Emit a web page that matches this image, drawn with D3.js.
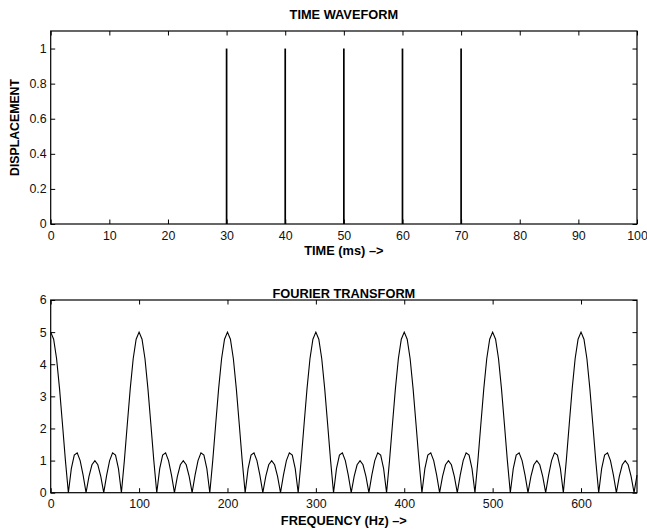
<!DOCTYPE html>
<html>
<head>
<meta charset="utf-8">
<script src="https://cdn.jsdelivr.net/npm/d3@7/dist/d3.min.js"></script>
<style>
  html, body { margin: 0; padding: 0; background: #fff; }
  svg { display: block; font-family: "Liberation Sans", Arial, Helvetica, sans-serif; }
  .tick text { fill: #111; font-size: 12.4px; }
  .title, .xlabel { font-weight: bold; font-size: 12.8px; fill: #000; }
  .ylabel { font-weight: bold; font-size: 12.3px; fill: #000; }
</style>
</head>
<body>
<svg id="chart" width="647" height="529"></svg>
<script>
// ---- time waveform: unit impulses ----
const pulseTimesMs = [30, 40, 50, 60, 70];
const pulseAmplitudes = [1, 1, 1, 1, 1];
const timeTicks = [0, 10, 20, 30, 40, 50, 60, 70, 80, 90, 100];
const displacementTicks = [0, 0.2, 0.4, 0.6, 0.8, 1];

// ---- Fourier transform magnitude, sampled every 10/3 Hz starting at 0 Hz ----
const freqStepHz = 10 / 3;
const spectrumMagnitude = [
  5.00, 4.78, 4.17, 3.24, 2.13, 1.00, 0.00, 0.75, 1.17, 1.24, 1.00, 0.55, 0.00, 0.51, 0.87,
  1.00, 0.87, 0.51, 0.00, 0.55, 1.00, 1.24, 1.17, 0.75, 0.00, 1.00, 2.13, 3.24, 4.17, 4.78,
  5.00, 4.78, 4.17, 3.24, 2.13, 1.00, 0.00, 0.75, 1.17, 1.24, 1.00, 0.55, 0.00, 0.51, 0.87,
  1.00, 0.87, 0.51, 0.00, 0.55, 1.00, 1.24, 1.17, 0.75, 0.00, 1.00, 2.13, 3.24, 4.17, 4.78,
  5.00, 4.78, 4.17, 3.24, 2.13, 1.00, 0.00, 0.75, 1.17, 1.24, 1.00, 0.55, 0.00, 0.51, 0.87,
  1.00, 0.87, 0.51, 0.00, 0.55, 1.00, 1.24, 1.17, 0.75, 0.00, 1.00, 2.13, 3.24, 4.17, 4.78,
  5.00, 4.78, 4.17, 3.24, 2.13, 1.00, 0.00, 0.75, 1.17, 1.24, 1.00, 0.55, 0.00, 0.51, 0.87,
  1.00, 0.87, 0.51, 0.00, 0.55, 1.00, 1.24, 1.17, 0.75, 0.00, 1.00, 2.13, 3.24, 4.17, 4.78,
  5.00, 4.78, 4.17, 3.24, 2.13, 1.00, 0.00, 0.75, 1.17, 1.24, 1.00, 0.55, 0.00, 0.51, 0.87,
  1.00, 0.87, 0.51, 0.00, 0.55, 1.00, 1.24, 1.17, 0.75, 0.00, 1.00, 2.13, 3.24, 4.17, 4.78,
  5.00, 4.78, 4.17, 3.24, 2.13, 1.00, 0.00, 0.75, 1.17, 1.24, 1.00, 0.55, 0.00, 0.51, 0.87,
  1.00, 0.87, 0.51, 0.00, 0.55, 1.00, 1.24, 1.17, 0.75, 0.00, 1.00, 2.13, 3.24, 4.17, 4.78,
  5.00, 4.78, 4.17, 3.24, 2.13, 1.00, 0.00, 0.75, 1.17, 1.24, 1.00, 0.55, 0.00, 0.51, 0.87,
  1.00, 0.87, 0.51, 0.00, 0.55
];
const freqTicks = [0, 100, 200, 300, 400, 500, 600];
const magnitudeTicks = [0, 1, 2, 3, 4, 5, 6];

const svg = d3.select("#chart");
const plotLeft = 50.7, plotRight = 637;

// Boxed axes with inward ticks on all four sides
function frame(g, x, y, xTicks, yTicks, yFmt) {
  const [y0, y1] = y.range();
  const tick = -4.5;
  g.append("g").attr("transform", `translate(0,${y0})`)
    .call(d3.axisBottom(x).tickValues(xTicks).tickSizeInner(tick).tickSizeOuter(0).tickPadding(7).tickFormat(d3.format("d")));
  g.append("g").attr("transform", `translate(0,${y1})`)
    .call(d3.axisTop(x).tickValues(xTicks).tickSizeInner(tick).tickSizeOuter(0).tickFormat(""));
  g.append("g").attr("transform", `translate(${plotLeft},0)`)
    .call(d3.axisLeft(y).tickValues(yTicks).tickSizeInner(tick).tickSizeOuter(0).tickPadding(4).tickFormat(yFmt));
  g.append("g").attr("transform", `translate(${plotRight},0)`)
    .call(d3.axisRight(y).tickValues(yTicks).tickSizeInner(tick).tickSizeOuter(0).tickFormat(""));
  g.selectAll(".domain").remove();
  g.selectAll(".tick line").attr("stroke", "#000").attr("stroke-width", 1);
  g.append("rect")
    .attr("x", plotLeft).attr("y", y1)
    .attr("width", plotRight - plotLeft).attr("height", y0 - y1)
    .attr("fill", "none").attr("stroke", "#000").attr("stroke-width", 1.2);
}

// ---------- upper panel: time waveform ----------
const xTime = d3.scaleLinear().domain([0, 100]).range([plotLeft, plotRight]);
const yDisp = d3.scaleLinear().domain([0, 1.1]).range([224, 31]);
const upper = svg.append("g");

const pulses = pulseTimesMs.map((t, i) => ({ t, a: pulseAmplitudes[i] }));
upper.append("g").selectAll("line").data(pulses).join("line")
  .attr("x1", d => xTime(d.t)).attr("x2", d => xTime(d.t))
  .attr("y1", yDisp(0)).attr("y2", d => yDisp(d.a))
  .attr("stroke", "#000").attr("stroke-width", 1.7);

frame(upper, xTime, yDisp, timeTicks, displacementTicks, d => d3.format("~g")(d));

upper.append("text").attr("class", "title").attr("text-anchor", "middle")
  .attr("x", (plotLeft + plotRight) / 2).attr("y", 19.4).text("TIME WAVEFORM");
upper.append("text").attr("class", "xlabel").attr("text-anchor", "middle")
  .attr("x", (plotLeft + plotRight) / 2).attr("y", 255.4).text("TIME (ms) –>");
upper.append("text").attr("class", "ylabel").attr("text-anchor", "middle")
  .attr("transform", `translate(19,${(yDisp(0) + yDisp(1.1)) / 2}) rotate(-90)`).text("DISPLACEMENT");

// ---------- lower panel: Fourier transform ----------
const spectrum = spectrumMagnitude.map((m, k) => ({ f: k * freqStepHz, m }));
const xFreq = d3.scaleLinear().domain([0, spectrum[spectrum.length - 1].f]).range([plotLeft, plotRight]);
const yMag = d3.scaleLinear().domain([0, 6]).range([492.7, 300]);
const lower = svg.append("g");

lower.append("path").datum(spectrum)
  .attr("fill", "none").attr("stroke", "#000").attr("stroke-width", 1.1)
  .attr("stroke-linejoin", "miter")
  .attr("d", d3.line().x(d => xFreq(d.f)).y(d => yMag(d.m)));

frame(lower, xFreq, yMag, freqTicks, magnitudeTicks, d3.format("d"));

lower.append("text").attr("class", "title").attr("text-anchor", "middle")
  .attr("x", (plotLeft + plotRight) / 2).attr("y", 297.6).text("FOURIER TRANSFORM");
lower.append("text").attr("class", "xlabel").attr("text-anchor", "middle")
  .attr("x", (plotLeft + plotRight) / 2).attr("y", 525).text("FREQUENCY (Hz) –>");
</script>
</body>
</html>
